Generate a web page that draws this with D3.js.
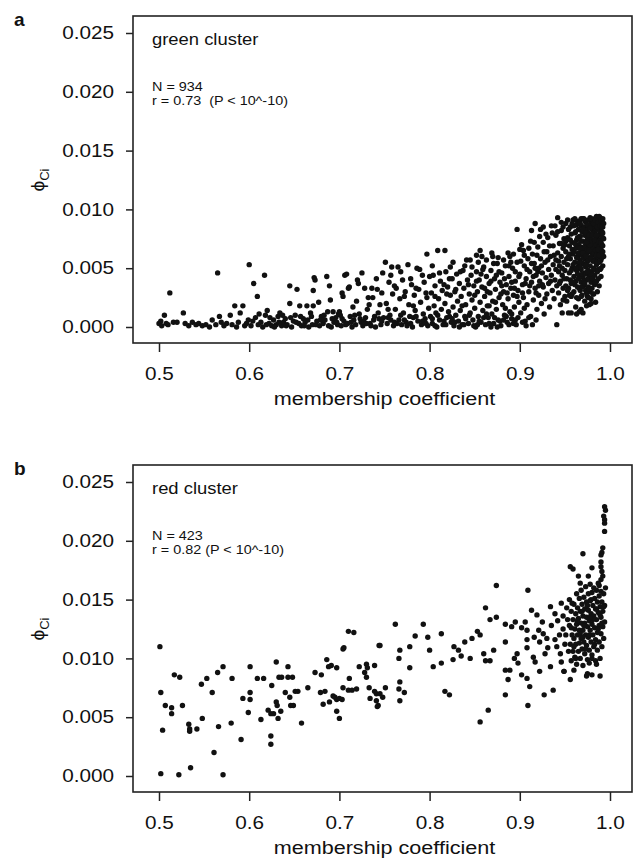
<!DOCTYPE html>
<html>
<head>
<meta charset="utf-8">
<title>membership coefficient vs phi</title>
<script src="https://cdn.jsdelivr.net/npm/d3@7"></script>
<style>
  body { margin: 0; background: white; }
  text { font-family: "Liberation Sans", Arial, sans-serif; fill: #111; }
</style>
</head>
<body>
<svg id="fig" width="634" height="865"></svg>
<script>

// points: [membership coefficient, phi_Ci]
var greenPts = [
  [0.500,0.0003],[0.502,0.0005],[0.503,0.0001],[0.506,0.0010],[0.508,0.0003],[0.510,0.0002],[0.512,0.0029],[0.516,0.0004],[0.520,0.0004],[0.527,0.0012],[0.529,0.0003],[0.533,0.0001],[0.537,0.0004],[0.541,0.0002],[0.544,0.0003],[0.548,0.0001],[0.552,0.0002],[0.556,0.0000],
  [0.559,0.0006],[0.563,0.0002],[0.565,0.0046],[0.567,0.0009],[0.569,0.0004],[0.572,0.0001],[0.575,0.0003],[0.579,0.0010],[0.581,0.0002],[0.584,0.0018],[0.586,0.0000],[0.588,0.0004],[0.590,0.0012],[0.593,0.0018],[0.595,0.0001],[0.597,0.0003],[0.599,0.0006],
  [0.600,0.0053],[0.602,0.0001],[0.605,0.0037],[0.607,0.0008],[0.609,0.0026],[0.610,0.0002],[0.613,0.0004],[0.615,0.0000],[0.617,0.0044],[0.618,0.0010],[0.620,0.0014],[0.622,0.0003],[0.625,0.0001],[0.627,0.0006],[0.630,0.0002],[0.632,0.0009],[0.634,0.0012],[0.636,0.0001],[0.638,0.0004],[0.640,0.0007],[0.642,0.0002],[0.645,0.0035],[0.645,0.0020],[0.647,0.0000],[0.649,0.0005],
  [0.651,0.0010],[0.653,0.0032],[0.655,0.0003],[0.656,0.0018],[0.658,0.0001],[0.660,0.0007],[0.662,0.0004],[0.664,0.0018],[0.666,0.0000],[0.668,0.0012],[0.670,0.0002],[0.671,0.0018],[0.671,0.0031],[0.672,0.0042],[0.673,0.0040],[0.675,0.0005],[0.677,0.0021],[0.678,0.0001],[0.680,0.0009],[0.682,0.0003],[0.684,0.0006],[0.686,0.0043],[0.687,0.0013],[0.689,0.0035],[0.690,0.0023],[0.691,0.0000],[0.693,0.0013],[0.694,0.0004],[0.696,0.0008],[0.698,0.0002],[0.699,0.0011],
  [0.700,0.0013],[0.702,0.0001],[0.704,0.0026],[0.705,0.0005],[0.706,0.0044],[0.708,0.0045],[0.709,0.0003],[0.710,0.0033],[0.711,0.0034],[0.712,0.0009],[0.714,0.0000],[0.715,0.0017],[0.716,0.0006],[0.718,0.0002],[0.720,0.0040],[0.721,0.0037],[0.722,0.0011],[0.724,0.0004],[0.726,0.0001],[0.728,0.0033],[0.729,0.0008],[0.731,0.0015],[0.732,0.0025],[0.734,0.0003],[0.736,0.0033],[0.737,0.0025],[0.738,0.0006],[0.740,0.0000],[0.742,0.0032],[0.743,0.0012],[0.745,0.0019],[0.746,0.0002],[0.748,0.0046],[0.749,0.0008],
  [0.751,0.0055],[0.752,0.0020],[0.753,0.0003],[0.755,0.0038],[0.756,0.0010],[0.758,0.0051],[0.759,0.0028],[0.760,0.0001],[0.762,0.0015],[0.763,0.0033],[0.765,0.0051],[0.766,0.0006],[0.767,0.0024],[0.769,0.0002],[0.770,0.0040],[0.771,0.0012],[0.773,0.0030],[0.774,0.0004],[0.776,0.0053],[0.777,0.0019],[0.778,0.0009],[0.780,0.0036],[0.781,0.0000],[0.783,0.0027],[0.784,0.0014],[0.786,0.0050],[0.787,0.0005],[0.788,0.0032],[0.789,0.0049],[0.790,0.0021],[0.791,0.0002],[0.793,0.0011],[0.794,0.0038],[0.795,0.0007],[0.797,0.0062],[0.797,0.0025],[0.798,0.0001],[0.799,0.0016],
  [0.800,0.0043],[0.801,0.0009],[0.802,0.0029],[0.803,0.0003],[0.804,0.0044],[0.805,0.0018],[0.806,0.0035],[0.807,0.0012],[0.808,0.0000],[0.809,0.0065],[0.810,0.0024],[0.811,0.0006],[0.812,0.0039],[0.813,0.0015],[0.814,0.0031],[0.815,0.0002],[0.817,0.0065],[0.817,0.0020],[0.818,0.0047],[0.819,0.0008],[0.820,0.0034],[0.821,0.0013],[0.823,0.0051],[0.823,0.0027],[0.824,0.0004],[0.825,0.0041],[0.826,0.0017],[0.827,0.0001],[0.828,0.0030],[0.829,0.0010],[0.830,0.0045],[0.831,0.0022],[0.832,0.0005],[0.833,0.0037],[0.834,0.0014],[0.835,0.0026],[0.836,0.0002],[0.837,0.0048],[0.838,0.0033],[0.839,0.0009],[0.840,0.0019],[0.841,0.0057],[0.842,0.0040],[0.843,0.0003],[0.844,0.0028],[0.845,0.0057],[0.845,0.0012],[0.846,0.0044],[0.847,0.0023],[0.848,0.0006],[0.849,0.0035],
  [0.850,0.0016],[0.851,0.0000],[0.852,0.0047],[0.853,0.0030],[0.854,0.0009],[0.855,0.0040],[0.856,0.0065],[0.856,0.0021],[0.857,0.0004],[0.858,0.0060],[0.858,0.0034],[0.859,0.0014],[0.860,0.0051],[0.861,0.0026],[0.862,0.0002],[0.863,0.0043],[0.864,0.0018],[0.865,0.0008],[0.866,0.0037],[0.867,0.0029],[0.868,0.0048],[0.869,0.0063],[0.869,0.0011],[0.870,0.0022],[0.871,0.0003],[0.872,0.0041],[0.873,0.0032],[0.874,0.0015],[0.875,0.0054],[0.876,0.0059],[0.876,0.0006],[0.877,0.0025],[0.878,0.0038],[0.879,0.0001],[0.880,0.0046],[0.881,0.0019],[0.882,0.0030],[0.883,0.0010],[0.884,0.0052],[0.885,0.0036],[0.886,0.0004],[0.887,0.0063],[0.887,0.0024],[0.888,0.0043],[0.889,0.0060],[0.889,0.0013],[0.890,0.0033],[0.891,0.0007],[0.892,0.0050],[0.893,0.0027],[0.894,0.0017],[0.895,0.0039],[0.896,0.0002],[0.897,0.0083],[0.897,0.0055],[0.898,0.0031],[0.899,0.0021],
  [0.900,0.0045],[0.901,0.0012],[0.902,0.0070],[0.903,0.0036],[0.904,0.0065],[0.904,0.0025],[0.905,0.0052],[0.906,0.0005],[0.907,0.0041],[0.908,0.0019],[0.909,0.0058],[0.910,0.0030],[0.911,0.0047],[0.912,0.0009],[0.913,0.0082],[0.913,0.0038],[0.914,0.0062],[0.915,0.0023],[0.916,0.0054],[0.917,0.0088],[0.917,0.0033],[0.918,0.0044],[0.919,0.0015],[0.920,0.0068],[0.921,0.0050],[0.921,0.0027],[0.922,0.0039],[0.923,0.0083],[0.923,0.0058],[0.924,0.0020],[0.925,0.0046],[0.926,0.0072],[0.926,0.0034],[0.927,0.0011],[0.928,0.0055],[0.929,0.0042],[0.930,0.0064],[0.930,0.0028],[0.931,0.0076],[0.932,0.0049],[0.932,0.0037],[0.933,0.0017],[0.934,0.0060],[0.935,0.0086],[0.935,0.0044],[0.936,0.0031],[0.937,0.0069],[0.937,0.0053],[0.938,0.0024],[0.939,0.0086],[0.939,0.0040],[0.940,0.0078],[0.940,0.0057],[0.941,0.0002],[0.941,0.0035],[0.942,0.0093],[0.942,0.0063],[0.943,0.0047],[0.943,0.0029],[0.944,0.0071],[0.944,0.0052],[0.945,0.0039],[0.945,0.0019],[0.946,0.0082],[0.946,0.0060],[0.947,0.0012],[0.947,0.0044],[0.948,0.0067],[0.948,0.0033],[0.949,0.0055],[0.949,0.0075],[0.950,0.0026],[0.950,0.0048],
  [0.951,0.0088],[0.951,0.0064],[0.952,0.0041],[0.952,0.0022],[0.953,0.0076],[0.953,0.0053],[0.954,0.0033],[0.954,0.0012],[0.955,0.0069],[0.955,0.0046],[0.956,0.0085],[0.956,0.0058],[0.957,0.0037],[0.957,0.0026],[0.958,0.0072],[0.958,0.0050],[0.959,0.0091],[0.959,0.0062],[0.960,0.0043],[0.960,0.0030],[0.961,0.0080],[0.961,0.0055],[0.962,0.0067],[0.962,0.0039],[0.962,0.0017],[0.963,0.0087],[0.963,0.0074],[0.963,0.0048],[0.964,0.0060],[0.964,0.0034],[0.965,0.0083],[0.965,0.0070],[0.965,0.0052],[0.965,0.0024],
  [0.966,0.0090],[0.966,0.0063],[0.966,0.0044],[0.966,0.0013],[0.967,0.0077],[0.967,0.0057],[0.967,0.0031],[0.968,0.0086],[0.968,0.0068],[0.968,0.0049],[0.968,0.0038],[0.969,0.0081],[0.969,0.0061],[0.969,0.0027],[0.970,0.0092],[0.970,0.0073],[0.970,0.0054],[0.970,0.0042],[0.970,0.0012],[0.971,0.0085],[0.971,0.0065],[0.971,0.0035],[0.972,0.0078],[0.972,0.0058],[0.972,0.0046],[0.972,0.0022],[0.973,0.0089],[0.973,0.0070],[0.973,0.0051],[0.973,0.0031],[0.974,0.0083],[0.974,0.0062],[0.974,0.0040],[0.975,0.0075],[0.975,0.0056],[0.975,0.0026],
  [0.976,0.0091],[0.976,0.0080],[0.976,0.0067],[0.976,0.0048],[0.976,0.0034],[0.977,0.0086],[0.977,0.0072],[0.977,0.0059],[0.977,0.0043],[0.977,0.0019],[0.978,0.0093],[0.978,0.0077],[0.978,0.0064],[0.978,0.0052],[0.978,0.0030],[0.979,0.0088],[0.979,0.0069],[0.979,0.0038],[0.979,0.0024],[0.980,0.0083],[0.980,0.0074],[0.980,0.0061],[0.980,0.0047],[0.980,0.0033],[0.981,0.0090],[0.981,0.0079],[0.981,0.0056],[0.981,0.0041],[0.982,0.0085],[0.982,0.0071],[0.982,0.0063],[0.982,0.0050],[0.982,0.0028],[0.983,0.0092],[0.983,0.0081],[0.983,0.0067],[0.983,0.0044],[0.983,0.0036],[0.984,0.0087],[0.984,0.0075],[0.984,0.0058],[0.984,0.0021],[0.985,0.0094],[0.985,0.0083],[0.985,0.0070],[0.985,0.0053],[0.985,0.0039],
  [0.986,0.0089],[0.986,0.0077],[0.986,0.0064],[0.986,0.0047],[0.986,0.0030],[0.987,0.0092],[0.987,0.0084],[0.987,0.0072],[0.987,0.0060],[0.987,0.0041],[0.988,0.0088],[0.988,0.0079],[0.988,0.0068],[0.988,0.0055],[0.988,0.0035],[0.989,0.0093],[0.989,0.0082],[0.989,0.0074],[0.989,0.0062],[0.989,0.0049],[0.990,0.0087],[0.990,0.0078],[0.990,0.0066],[0.990,0.0057],[0.990,0.0043],[0.991,0.0090],[0.991,0.0081],[0.991,0.0070],[0.991,0.0059],[0.992,0.0085],[0.992,0.0076],[0.992,0.0064],[0.992,0.0052],
  [0.957,0.0012],[0.963,0.0011],[0.968,0.0015],[0.974,0.0018],[0.979,0.0020],
  [0.703,0.0007],[0.713,0.0004],[0.727,0.0005],[0.735,0.0001],[0.744,0.0007],[0.757,0.0006],[0.764,0.0003],[0.775,0.0001],[0.782,0.0008],[0.792,0.0005],[0.803,0.0007],[0.816,0.0005],[0.822,0.0009],[0.833,0.0000],[0.840,0.0007],[0.853,0.0002],[0.860,0.0008],[0.868,0.0000],[0.878,0.0005],[0.885,0.0009],[0.893,0.0003],[0.898,0.0008],[0.907,0.0001],
  [0.604,0.0005],[0.611,0.0011],[0.619,0.0002],[0.623,0.0008],[0.628,0.0000],[0.633,0.0004],[0.637,0.0010],[0.641,0.0001],[0.646,0.0008],[0.652,0.0004],[0.657,0.0009],[0.661,0.0001],[0.665,0.0006],[0.669,0.0009],[0.674,0.0002],[0.679,0.0006],[0.683,0.0010],[0.688,0.0001],[0.692,0.0007],[0.697,0.0004],[0.701,0.0010],[0.707,0.0002],[0.717,0.0010],[0.723,0.0007],[0.730,0.0003],[0.739,0.0009],[0.747,0.0005],[0.754,0.0008],[0.761,0.0004],[0.768,0.0010],[0.772,0.0006],[0.779,0.0003],[0.785,0.0009],[0.796,0.0003],[0.806,0.0001],[0.809,0.0010],[0.818,0.0002],[0.825,0.0007],[0.828,0.0004],[0.838,0.0002],[0.844,0.0010],[0.849,0.0001],[0.855,0.0005],[0.863,0.0011],[0.866,0.0003],[0.872,0.0008],[0.875,0.0000],[0.882,0.0006],[0.888,0.0002],[0.891,0.0011],[0.895,0.0006],[0.903,0.0004],[0.910,0.0008],[0.914,0.0002],[0.918,0.0006],
  [0.703,0.0029],[0.719,0.0022],[0.725,0.0046],[0.733,0.0019],[0.741,0.0041],[0.747,0.0029],[0.754,0.0015],[0.757,0.0044],[0.761,0.0035],[0.768,0.0047],[0.772,0.0026],[0.779,0.0041],[0.782,0.0018],[0.785,0.0033],[0.792,0.0044],[0.796,0.0029],[0.803,0.0052],[0.806,0.0026],[0.811,0.0046],[0.816,0.0036],[0.819,0.0028],[0.822,0.0041],[0.826,0.0055],[0.829,0.0032],[0.834,0.0047],[0.836,0.0018],[0.839,0.0052],[0.843,0.0036],[0.847,0.0051],[0.850,0.0027],[0.852,0.0039],[0.854,0.0055],[0.857,0.0045],[0.861,0.0033],[0.863,0.0057],[0.866,0.0018],[0.868,0.0039],[0.871,0.0054],[0.874,0.0044],[0.877,0.0047],[0.879,0.0028],[0.882,0.0057],[0.883,0.0041],[0.886,0.0029],[0.888,0.0052],[0.891,0.0038],[0.893,0.0062],[0.895,0.0047],[0.897,0.0026],[0.899,0.0043],[0.901,0.0056],[0.903,0.0029],[0.905,0.0061],[0.906,0.0037],[0.908,0.0049],[0.910,0.0067],[0.911,0.0035],[0.913,0.0054],[0.915,0.0043],[0.916,0.0072],[0.918,0.0029],[0.919,0.0061],[0.920,0.0047],[0.922,0.0077],[0.924,0.0052],[0.925,0.0036],[0.927,0.0064],[0.928,0.0024],[0.929,0.0079],[0.931,0.0057],[0.933,0.0069],[0.934,0.0039],[0.936,0.0080],[0.938,0.0061],[0.940,0.0049],
  [0.942,0.0081],[0.943,0.0056],[0.944,0.0037],[0.946,0.0071],[0.947,0.0050],[0.948,0.0085],[0.949,0.0041],[0.951,0.0073],[0.952,0.0058],[0.953,0.0031],[0.954,0.0083],[0.955,0.0062],[0.956,0.0040],[0.957,0.0079],[0.958,0.0066],[0.958,0.0028],[0.959,0.0053],[0.960,0.0086],[0.961,0.0071],[0.961,0.0036],[0.962,0.0081],[0.963,0.0059],[0.964,0.0045],[0.964,0.0090],[0.965,0.0063],[0.966,0.0077],[0.966,0.0033],[0.967,0.0088],[0.967,0.0051],[0.968,0.0073],[0.968,0.0026],[0.969,0.0066],[0.969,0.0045],[0.970,0.0083],[0.971,0.0059],[0.971,0.0039],[0.972,0.0091],[0.972,0.0067],[0.973,0.0045],[0.973,0.0080],[0.974,0.0053],[0.974,0.0029],[0.975,0.0087],[0.975,0.0066],[0.976,0.0041],[0.976,0.0057],[0.977,0.0078],[0.977,0.0032],[0.978,0.0069],[0.978,0.0045],[0.979,0.0092],[0.979,0.0058],[0.980,0.0078],[0.980,0.0041],[0.981,0.0066],[0.981,0.0028],[0.982,0.0088],[0.982,0.0056],[0.983,0.0074],[0.983,0.0049],[0.984,0.0091],[0.984,0.0065],[0.984,0.0038],[0.985,0.0078],[0.985,0.0061],[0.986,0.0085],[0.986,0.0055],[0.987,0.0089],[0.987,0.0066],[0.987,0.0049],[0.988,0.0094],[0.988,0.0073],[0.988,0.0061],[0.989,0.0086],[0.989,0.0056],[0.990,0.0091],[0.990,0.0072],[0.990,0.0050],[0.991,0.0085],[0.991,0.0064],[0.992,0.0092],[0.992,0.0080],[0.992,0.0069],[0.993,0.0088],[0.993,0.0075],[0.993,0.0060],
  [0.946,0.0089],[0.948,0.0023],[0.950,0.0070],[0.951,0.0035],[0.953,0.0091],[0.954,0.0060],[0.955,0.0027],[0.956,0.0074],[0.957,0.0048],[0.958,0.0088],[0.959,0.0038],[0.960,0.0064],[0.961,0.0092],[0.962,0.0050],[0.963,0.0025],[0.964,0.0076],[0.965,0.0041],[0.966,0.0055],[0.967,0.0067],[0.968,0.0092],[0.969,0.0034],[0.970,0.0063],[0.971,0.0092],[0.972,0.0037],[0.973,0.0060],[0.974,0.0072],[0.975,0.0047],[0.976,0.0025],[0.977,0.0065],[0.978,0.0084],
  [0.852,0.0061],[0.859,0.0049],[0.864,0.0030],[0.870,0.0060],[0.873,0.0021],[0.880,0.0035],[0.884,0.0016],[0.890,0.0055],[0.894,0.0033],[0.900,0.0066],[0.905,0.0016],[0.912,0.0073],[0.917,0.0050],[0.921,0.0035],[0.926,0.0085]
];

var redPts = [
  [0.501,0.0110],[0.502,0.0071],[0.504,0.0039],[0.507,0.0060],[0.502,0.0002],[0.514,0.0058],[0.514,0.0053],[0.517,0.0086],[0.523,0.0084],[0.526,0.0060],[0.522,0.0001],[0.533,0.0044],[0.534,0.0038],[0.534,0.0040],[0.542,0.0040],[0.535,0.0007],[0.548,0.0049],[0.547,0.0078],[0.553,0.0083],[0.559,0.0071],[0.561,0.0020],[0.565,0.0088],[0.566,0.0042],[0.571,0.0093],[0.571,0.0001],[0.581,0.0083],[0.580,0.0045],[0.591,0.0031],[0.593,0.0066],[0.599,0.0054],
  [0.601,0.0093],[0.601,0.0071],[0.601,0.0065],[0.609,0.0083],[0.616,0.0083],[0.613,0.0048],[0.621,0.0056],[0.624,0.0053],[0.627,0.0053],[0.625,0.0077],[0.624,0.0034],[0.624,0.0027],[0.630,0.0097],[0.630,0.0063],[0.631,0.0060],[0.632,0.0049],[0.635,0.0055],[0.633,0.0084],[0.636,0.0084],[0.643,0.0093],[0.643,0.0084],[0.648,0.0084],[0.640,0.0071],[0.645,0.0067],[0.646,0.0060],[0.649,0.0060],
  [0.651,0.0072],[0.654,0.0072],[0.658,0.0045],[0.665,0.0075],[0.673,0.0088],[0.679,0.0071],[0.680,0.0086],[0.682,0.0061],[0.684,0.0072],[0.686,0.0099],[0.688,0.0093],[0.691,0.0094],[0.689,0.0063],[0.693,0.0068],[0.695,0.0067],[0.697,0.0092],[0.697,0.0065],[0.700,0.0066],[0.703,0.0065],[0.697,0.0055],[0.700,0.0049],
  [0.704,0.0108],[0.705,0.0109],[0.710,0.0123],[0.716,0.0122],[0.704,0.0075],[0.711,0.0083],[0.710,0.0073],[0.714,0.0073],[0.719,0.0074],[0.722,0.0093],[0.730,0.0095],[0.731,0.0092],[0.728,0.0088],[0.730,0.0084],[0.733,0.0075],[0.734,0.0066],[0.739,0.0094],[0.741,0.0070],[0.743,0.0060],[0.744,0.0111],
  [0.745,0.0111],[0.741,0.0064],[0.745,0.0070],[0.748,0.0067],[0.751,0.0075],[0.742,0.0059],[0.739,0.0072],[0.762,0.0129],[0.793,0.0129],[0.784,0.0119],[0.813,0.0121],[0.798,0.0118],[0.778,0.0110],[0.767,0.0107],[0.766,0.0100],[0.800,0.0107],[0.827,0.0110],[0.832,0.0107],[0.839,0.0114],[0.847,0.0117],[0.853,0.0123],[0.856,0.0120],[0.835,0.0102],[0.845,0.0100],[0.826,0.0099],[0.860,0.0104],[0.862,0.0098],[0.867,0.0098],[0.871,0.0107],[0.804,0.0093],[0.813,0.0096],[0.778,0.0092],[0.767,0.0080],[0.766,0.0074],[0.772,0.0071],[0.767,0.0064],[0.817,0.0072],[0.822,0.0069],[0.865,0.0056],[0.856,0.0046],
  [0.862,0.0143],[0.874,0.0135],[0.867,0.0133],[0.874,0.0162],[0.884,0.0129],[0.891,0.0127],[0.895,0.0131],[0.884,0.0114],[0.897,0.0104],[0.894,0.0100],[0.898,0.0096],[0.884,0.0090],[0.889,0.0090],[0.887,0.0082],[0.884,0.0069],
  [0.902,0.0126],[0.908,0.0124],[0.906,0.0131],[0.909,0.0158],[0.913,0.0141],[0.919,0.0137],[0.921,0.0124],[0.926,0.0121],[0.935,0.0128],[0.934,0.0144],[0.939,0.0138],[0.946,0.0147],[0.952,0.0143],[0.908,0.0116],[0.908,0.0109],[0.915,0.0101],[0.917,0.0097],[0.922,0.0114],[0.928,0.0104],[0.931,0.0109],[0.939,0.0116],[0.941,0.0110],[0.945,0.0104],[0.946,0.0097],[0.934,0.0093],[0.922,0.0089],[0.902,0.0086],[0.908,0.0083],[0.911,0.0076],[0.937,0.0073],[0.927,0.0069],[0.909,0.0060],[0.949,0.0089],[0.944,0.0120],[0.948,0.0125],[0.942,0.0132],[0.925,0.0131],[0.930,0.0117],[0.916,0.0118],[0.950,0.0112],[0.948,0.0136],
  [0.994,0.0229],[0.995,0.0226],[0.993,0.0221],[0.994,0.0218],[0.994,0.0215],[0.994,0.0208],[0.992,0.0194],[0.991,0.0190],[0.990,0.0188],[0.990,0.0182],[0.990,0.0178],[0.991,0.0174],[0.992,0.0170],[0.990,0.0167],[0.988,0.0162],
  [0.970,0.0189],[0.956,0.0178],[0.959,0.0176],[0.980,0.0177],[0.965,0.0170],[0.967,0.0164],[0.976,0.0170],[0.949,0.0089],[0.956,0.0082],[0.960,0.0090],[0.975,0.0087],[0.980,0.0086],[0.974,0.0085],[0.989,0.0085],[0.980,0.0100],[0.977,0.0096],
  [0.955,0.0150],[0.955,0.0128],[0.956,0.0112],[0.957,0.0140],[0.957,0.0098],[0.958,0.0120],[0.959,0.0133],[0.959,0.0106],[0.960,0.0146],[0.960,0.0117],[0.961,0.0125],[0.961,0.0101],[0.962,0.0138],[0.962,0.0112],[0.963,0.0155],[0.963,0.0129],[0.963,0.0095],[0.964,0.0120],[0.964,0.0143],[0.965,0.0106],[0.965,0.0134],[0.966,0.0151],[0.966,0.0124],[0.966,0.0113],[0.967,0.0140],[0.967,0.0100],[0.968,0.0130],[0.968,0.0117],[0.968,0.0158],[0.969,0.0146],[0.969,0.0108],[0.970,0.0136],[0.970,0.0124],[0.970,0.0094],[0.971,0.0152],[0.971,0.0114],[0.972,0.0142],[0.972,0.0130],[0.972,0.0104],[0.973,0.0161],[0.973,0.0120],[0.974,0.0148],[0.974,0.0135],[0.974,0.0111],[0.975,0.0127],[0.975,0.0099],
  [0.976,0.0155],[0.976,0.0141],[0.976,0.0118],[0.977,0.0132],[0.977,0.0107],[0.978,0.0163],[0.978,0.0149],[0.978,0.0124],[0.979,0.0138],[0.979,0.0114],[0.980,0.0156],[0.980,0.0129],[0.980,0.0103],[0.981,0.0145],[0.981,0.0120],[0.982,0.0160],[0.982,0.0136],[0.982,0.0110],[0.983,0.0151],[0.983,0.0126],[0.984,0.0142],[0.984,0.0116],[0.984,0.0098],[0.985,0.0158],[0.985,0.0133],[0.986,0.0148],[0.986,0.0122],[0.986,0.0107],[0.987,0.0139],[0.987,0.0164],[0.988,0.0153],[0.988,0.0128],[0.988,0.0114],[0.989,0.0144],[0.989,0.0100],[0.990,0.0157],[0.990,0.0135],[0.990,0.0121],[0.991,0.0148],[0.991,0.0110],[0.992,0.0140],[0.992,0.0127],[0.993,0.0155],[0.993,0.0117],[0.994,0.0145],[0.994,0.0131],[0.995,0.0160],
  [0.951,0.0120],[0.953,0.0133],[0.954,0.0106],[0.957,0.0126],[0.958,0.0147],[0.960,0.0110],[0.962,0.0100],[0.964,0.0132],[0.967,0.0121],[0.969,0.0140],[0.971,0.0128],[0.973,0.0108],[0.975,0.0145],[0.977,0.0120],[0.979,0.0150],[0.981,0.0133],[0.983,0.0112],[0.985,0.0142],[0.987,0.0125],[0.989,0.0137],[0.991,0.0130],[0.993,0.0144],[0.985,0.0095],[0.970,0.0118],[0.978,0.0135]
];

var xTicks = [0.5, 0.6, 0.7, 0.8, 0.9, 1.0];
var yTicks = [0.000, 0.005, 0.010, 0.015, 0.020, 0.025];
var panelLetters = ["a", "b"];
var clusterNames = ["green cluster", "red cluster"];
var nLabels = ["N = 934", "N = 423"];
var rLabels = ["r = 0.73  (P < 10^-10)", "r = 0.82 (P < 10^-10)"];
var xTitle = "membership coefficient";

var svg = d3.select("#fig");
var x = d3.scaleLinear().domain([0.5, 1.0]).range([159, 610]);
var y = d3.scaleLinear().domain([0, 0.025]).range([327, 33]);

// the scanned figure is a bit wider than tall, so stretch glyphs sideways
function stretch(sel, k) {
    sel.each(function() {
        var w = this.getComputedTextLength();
        d3.select(this).attr("textLength", w * k).attr("lengthAdjust", "spacingAndGlyphs");
    });
}

function drawPanel(i, pts, top) {
    var g = svg.append("g").attr("transform", "translate(0," + top + ")");

    g.append("g").selectAll("circle")
        .data(pts)
        .enter()
        .append("circle")
        .attr("cx", d => x(d[0]))
        .attr("cy", d => y(d[1]))
        .attr("r", 2.7)
        .attr("fill", "#111");

    g.append("rect")
        .attr("x", 133).attr("y", 16)
        .attr("width", 499).attr("height", 327)
        .attr("fill", "none")
        .attr("stroke", "#222")
        .attr("stroke-width", 1.6);

    var xa = g.append("g")
        .attr("transform", "translate(0,343)")
        .call(d3.axisBottom(x).tickValues(xTicks).tickFormat(d3.format(".1f")).tickSize(9).tickPadding(15));
    var ya = g.append("g")
        .attr("transform", "translate(133,0)")
        .call(d3.axisLeft(y).tickValues(yTicks).tickFormat(d3.format(".3f")).tickSize(7).tickPadding(12));
    [xa, ya].forEach(function(a) {
        a.attr("font-family", null).attr("font-size", null);
        a.select(".domain").remove();
        a.selectAll(".tick line").attr("stroke", "#222").attr("stroke-width", 1.5);
        a.selectAll(".tick text").attr("fill", "#111").style("font-size", "18px").call(stretch, 1.15);
    });

    g.append("text")
        .attr("x", (x(0.5) + x(1.0)) / 2)
        .attr("y", 405)
        .attr("text-anchor", "middle")
        .style("font-size", "18px")
        .text(xTitle)
        .call(stretch, 1.2);

    var yl = g.append("text")
        .attr("transform", "translate(44,180) rotate(-90)")
        .attr("text-anchor", "middle")
        .style("font-size", "19px");
    yl.append("tspan").text("\u03D5");
    yl.append("tspan").attr("dy", 5).style("font-size", "13px").text("Ci");

    g.append("text")
        .attr("x", 14).attr("y", 26)
        .style("font-size", "19px").style("font-weight", "bold")
        .text(panelLetters[i]);

    g.append("text")
        .attr("x", 152).attr("y", 45)
        .style("font-size", "16px")
        .text(clusterNames[i])
        .call(stretch, 1.15);

    g.append("text")
        .attr("x", 152).attr("y", 91)
        .style("font-size", "12.5px")
        .text(nLabels[i])
        .call(stretch, 1.15);

    g.append("text")
        .attr("x", 152).attr("y", 105)
        .style("font-size", "12.5px")
        .style("white-space", "pre")
        .text(rLabels[i])
        .call(stretch, 1.15);
}

drawPanel(0, greenPts, 0);
drawPanel(1, redPts, 449);

</script>
</body>
</html>
